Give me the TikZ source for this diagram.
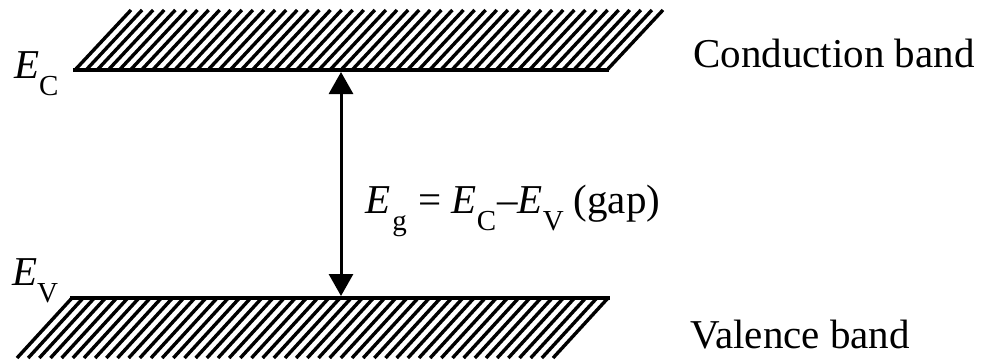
\documentclass[tikz,border=0pt]{standalone}
\usepackage{fontspec}
\setmainfont{Liberation Serif}
\usetikzlibrary{arrows.meta}
\tikzset{
  hatch/.style={line width=3.4pt},
  bandline/.style={line width=4pt, line cap=rect},
  gaparrow/.style={line width=3pt, {Triangle[width=24pt,length=22pt]}-{Triangle[width=24pt,length=22pt]}},
  lbl/.style={inner sep=0pt, anchor=base west, font=\fontsize{41}{48}\selectfont},
}
\newcommand{\subsc}[1]{\raisebox{-17pt}{\fontsize{29}{32}\selectfont #1}}
\begin{document}
\begin{tikzpicture}[x=1pt,y=-1pt]
\useasboundingbox (0,0) rectangle (981,360);
% conduction band
\foreach \i in {0,...,48} {
  \draw[hatch] ({75+\i*11.083},70) -- ({131+\i*11.083},10);
}
\coordinate (cl) at (75,70);
\coordinate (cr) at (607,70);
\draw[bandline] (cl) -- (cr);
% valence band
\foreach \i in {0,...,48} {
  \draw[hatch] ({72+\i*11.167},298) -- ({17+\i*11.167},358);
}
\coordinate (vl) at (72,298);
\coordinate (vr) at (608,298);
\draw[bandline] (vl) -- (vr);
% gap arrow
\coordinate (ct) at (341,72);
\coordinate (vb) at (341,296);
\draw[gaparrow] (ct) -- (vb);
% labels
\node[lbl] (ec) at (14,78) {\textit{E}\subsc{C}};
\node[lbl] (ev) at (12,285) {\textit{E}\subsc{V}};
\node[lbl] (eq) at (365,213) {\textit{E}\hspace{2pt}\subsc{g}\hspace{12pt}=\hspace{10pt}\textit{E}\subsc{C}\hspace{1pt}–\textit{E}\subsc{V}\hspace{10pt}(gap)};
\node[lbl] (cbl) at (693,67) {Conduction band};
\node[lbl] (vbl) at (690,348) {Valence band};
\end{tikzpicture}
\end{document}
